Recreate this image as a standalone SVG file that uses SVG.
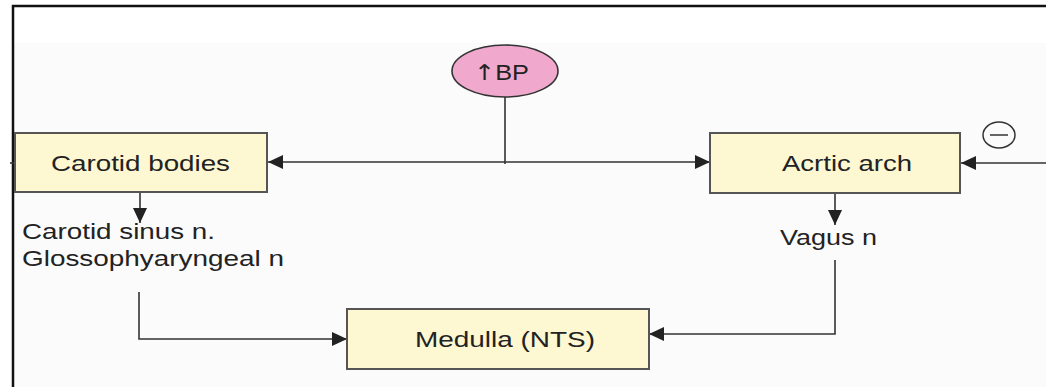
<svg xmlns="http://www.w3.org/2000/svg" width="1046" height="387" viewBox="0 0 1046 387">
<defs>
<marker id="ah" viewBox="0 0 15 14" refX="15" refY="7" markerWidth="15" markerHeight="14" markerUnits="userSpaceOnUse" orient="auto">
<path d="M0,0 L15,7 L0,14 Z" fill="#222"/>
</marker>
<style>
.box{fill:#fdf7d2;stroke:#555;stroke-width:2}
.lbl{font-family:"Liberation Sans",Arial,sans-serif;font-size:22px;fill:#222}
.ln{fill:none;stroke:#333;stroke-width:1.6}
</style>
</defs>
<rect x="0" y="0" width="1046" height="387" fill="#ffffff"/>
<rect x="14" y="43" width="1032" height="344" fill="#fbfbfb"/>
<path d="M13,387 V6 H1046" fill="none" stroke="#111" stroke-width="2.5"/>
<g id="connectors">
<line class="ln" x1="505" y1="97" x2="505" y2="164"/>
<line class="ln" x1="505" y1="162" x2="268" y2="162" marker-end="url(#ah)"/>
<line class="ln" x1="505" y1="162" x2="710" y2="162" marker-end="url(#ah)"/>
<line class="ln" x1="1046" y1="163" x2="961" y2="163" marker-end="url(#ah)"/>
<line class="ln" x1="140" y1="192" x2="140" y2="223" marker-end="url(#ah)"/>
<line class="ln" x1="835" y1="193" x2="835" y2="225" marker-end="url(#ah)"/>
<path class="ln" d="M139,292 V339 H347" marker-end="url(#ah)"/>
<path class="ln" d="M835,260 V334 H649" marker-end="url(#ah)"/>
<line class="ln" x1="10" y1="163" x2="15" y2="163"/>
</g>
<g id="bp">
<ellipse cx="505" cy="71" rx="53" ry="26" fill="#f0a8cc" stroke="#333" stroke-width="1.6"/>
<text class="lbl" x="474" y="80" font-size="23" textLength="55" lengthAdjust="spacingAndGlyphs"><tspan font-family="DejaVu Sans" fill="#222">↑</tspan>BP</text>
</g>
<g id="carotid">
<rect class="box" x="15" y="133" width="252" height="59"/>
<text class="lbl" x="51" y="171" textLength="179" lengthAdjust="spacingAndGlyphs">Carotid bodies</text>
</g>
<g id="aortic">
<rect class="box" x="710" y="133" width="250" height="60"/>
<text class="lbl" x="782" y="171" textLength="130" lengthAdjust="spacingAndGlyphs">Acrtic arch</text>
</g>
<g id="minus">
<ellipse cx="999" cy="135" rx="16" ry="13" fill="none" stroke="#333" stroke-width="1.5"/>
<line x1="990" y1="135" x2="1008" y2="135" stroke="#333" stroke-width="1.5"/>
</g>
<g id="carotid-nerve">
<text class="lbl" x="22" y="239" textLength="193" lengthAdjust="spacingAndGlyphs">Carotid sinus n.</text>
<text class="lbl" x="22" y="266" textLength="262" lengthAdjust="spacingAndGlyphs">Glossophyaryngeal n</text>
</g>
<g id="vagus">
<text class="lbl" x="780" y="245" textLength="97" lengthAdjust="spacingAndGlyphs">Vagus n</text>
</g>
<g id="medulla">
<rect class="box" x="347" y="309" width="302" height="60"/>
<text class="lbl" x="415" y="347" textLength="180" lengthAdjust="spacingAndGlyphs">Medulla (NTS)</text>
</g>
</svg>
